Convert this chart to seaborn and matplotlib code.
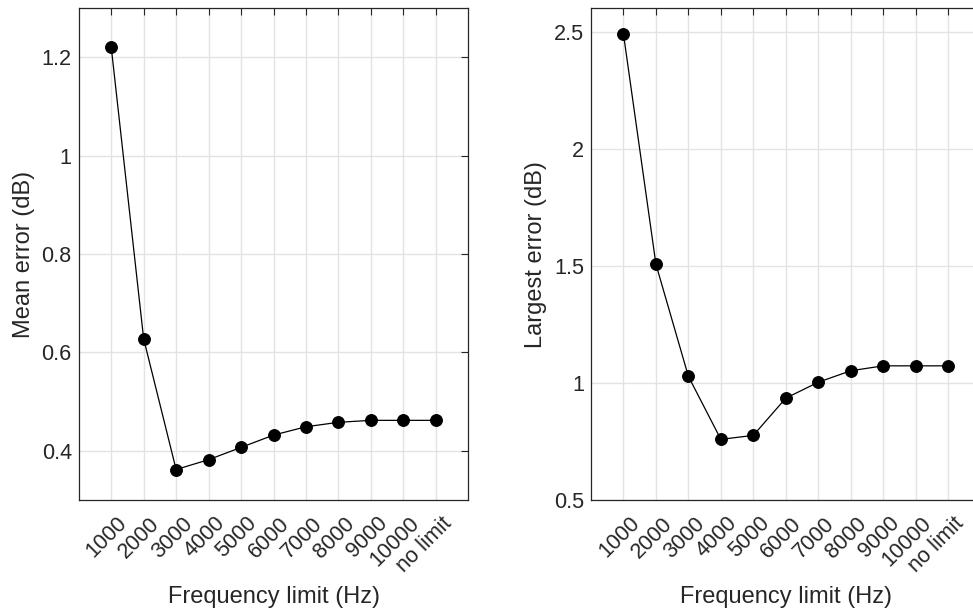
import matplotlib
matplotlib.use("Agg")
import matplotlib.pyplot as plt
import matplotlib.transforms as mtransforms
import seaborn as sns
import pandas as pd
from matplotlib.ticker import FuncFormatter

# Data
freq_labels = ['1000', '2000', '3000', '4000', '5000', '6000', '7000',
               '8000', '9000', '10000', 'no limit']
mean_error = [1.222, 0.628, 0.362, 0.382, 0.407, 0.432, 0.449, 0.458, 0.462, 0.462, 0.462]
largest_error = [2.49, 1.507, 1.028, 0.759, 0.776, 0.935, 1.003, 1.052, 1.073, 1.073, 1.073]

sns.set_style("whitegrid")
plt.rcParams['font.family'] = ['Liberation Sans', 'DejaVu Sans']

df = pd.DataFrame({'pos': range(1, len(freq_labels) + 1),
                   'mean': mean_error,
                   'largest': largest_error})

fig = plt.figure(figsize=(9.73, 6.12), dpi=100)
ax1 = fig.add_axes([0.0809, 0.183, 0.4004, 0.8034])
ax2 = fig.add_axes([0.6074, 0.183, 0.4004, 0.8034])

dark = '#262626'
# shift rotated tick labels down/right like the MATLAB original
shift = mtransforms.ScaledTranslation(5.5 / 100, -6 / 100, fig.dpi_scale_trans)


def style_axes(ax, ylim, yticks, ylabel):
    ax.set_xlim(0, 12)
    ax.set_ylim(*ylim)
    ax.set_yticks(yticks)
    ax.yaxis.set_major_formatter(FuncFormatter(lambda v, p: '%g' % v))
    ax.tick_params(direction='in', top=True, right=True, length=5,
                   width=0.8, color=dark, labelsize=15.6, labelcolor=dark, pad=5)
    ax.set_xticks(df['pos'])
    ax.set_xticklabels(freq_labels, rotation=45, ha='right', va='top',
                       rotation_mode='anchor')
    for lab in ax.get_xticklabels():
        lab.set_transform(lab.get_transform() + shift)
    ax.grid(True, color='#e3e3e3', linewidth=1.0)
    for s in ax.spines.values():
        s.set_color(dark)
        s.set_linewidth(0.9)
    ax.set_xlabel('Frequency limit (Hz)', fontsize=17, color=dark, labelpad=7)
    ax.set_ylabel(ylabel, fontsize=17, color=dark, labelpad=5)


sns.lineplot(data=df, x='pos', y='mean', ax=ax1, color='black', linewidth=0.9,
             marker='o', markersize=8.5, markeredgecolor='black')
style_axes(ax1, (0.3, 1.3), [0.4, 0.6, 0.8, 1.0, 1.2], 'Mean error (dB)')

sns.lineplot(data=df, x='pos', y='largest', ax=ax2, color='black', linewidth=0.9,
             marker='o', markersize=8.5, markeredgecolor='black')
style_axes(ax2, (0.5, 2.6), [0.5, 1.0, 1.5, 2.0, 2.5], 'Largest error (dB)')

fig.savefig('out.png', dpi=100)
